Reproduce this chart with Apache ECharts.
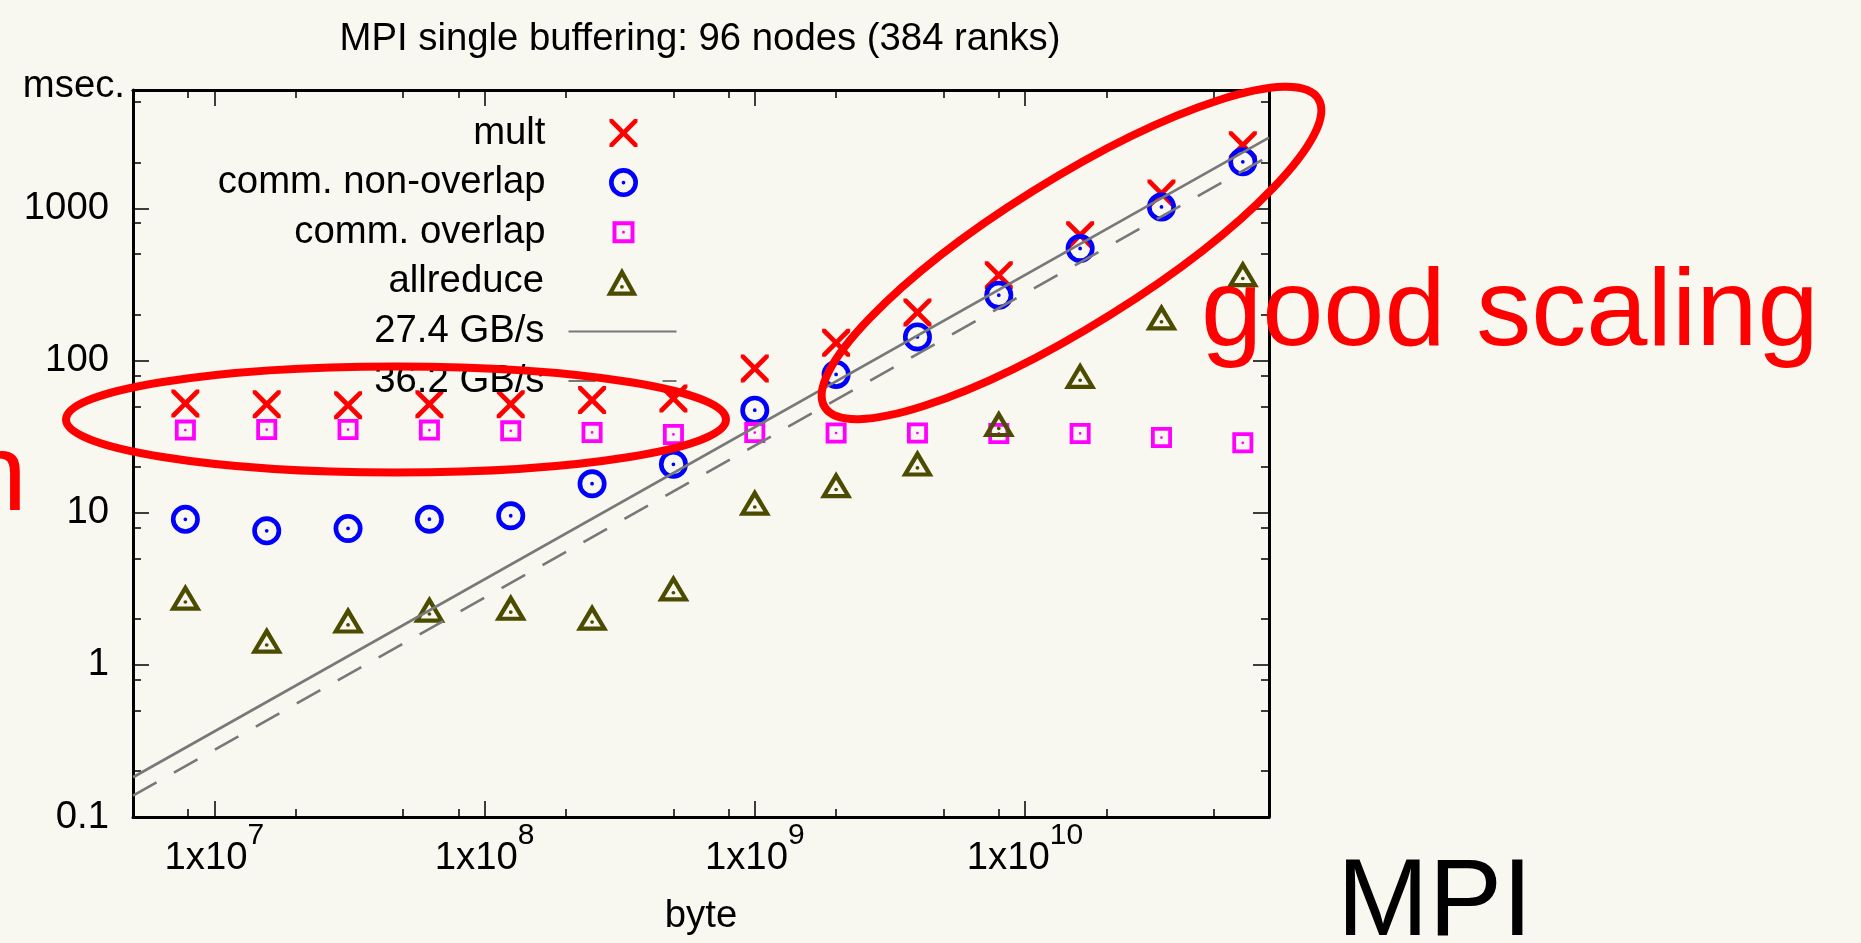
<!DOCTYPE html>
<html>
<head>
<meta charset="utf-8">
<script src="https://cdn.jsdelivr.net/npm/echarts@6/dist/echarts.min.js"></script>
<style>
html,body{margin:0;padding:0;background:#f8f7f0;}
#c{width:1861px;height:943px;}
</style>
</head>
<body>
<div id="c"></div>
<script>
// ---------------- data ----------------
const bytes = [7.8125e6, 1.5625e7, 3.125e7, 6.25e7, 1.25e8, 2.5e8, 5e8, 1e9, 2e9, 4e9, 8e9, 1.6e10, 3.2e10, 6.4e10];
const mult = [52.3, 51.7, 50.9, 51.7, 51.7, 55.0, 56.4, 88.7, 130.7, 207, 364, 667, 1253, 2601];
const commNonOverlap = [9.04, 7.60, 7.88, 9.06, 9.55, 15.5, 20.8, 47.2, 81.1, 143, 269, 545, 1023, 2022];
const commOverlap = [34.9, 35.2, 35.2, 34.9, 34.5, 33.7, 32.7, 33.6, 33.4, 33.4, 33.2, 33.2, 31.2, 28.8];
const allreduce = [2.59, 1.35, 1.83, 2.16, 2.22, 1.91, 2.98, 10.9, 14.2, 19.7, 35.8, 74.3, 179.6, 346];
const bwX = [5e6, 8e10];
const bw274 = [0.1825, 2920];
const bw362 = [0.138, 2210];
const seriesNames = ['mult', 'comm. non-overlap', 'comm. overlap', 'allreduce', '27.4 GB/s', '36.2 GB/s'];
const xMajorTicks = [1e7, 1e8, 1e9, 1e10];
const xMinorTicks = [8e6, 2e7, 5e7, 8e7, 2e8, 5e8, 8e8, 2e9, 5e9, 8e9, 2e10, 5e10];
const yMajorTicks = [0.1, 1, 10, 100, 1000];
const yMinorTicks = [0.2, 0.5, 0.8, 2, 5, 8, 20, 50, 80, 200, 500, 800, 2000, 5000];
const titleText = 'MPI single buffering: 96 nodes (384 ranks)';

// ---------------- styles ----------------
const FONT = '"Liberation Sans", Arial, Helvetica, sans-serif';
const FS = 38.3;
const X_MIN = 5e6, X_MAX = 8e10, Y_MIN = 0.1, Y_MAX = 6000;

const SYM_X = 'path://M0,0 L12,0 L50,38 L88,0 L100,0 L100,12 L62,50 L100,88 L100,100 L88,100 L50,62 L12,100 L0,100 L0,88 L38,50 L0,12 Z';
const SYM_CIRCLE = 'path://M0,50 A50,50 0 1,1 100,50 A50,50 0 1,1 0,50 Z M16,50 A34,34 0 1,0 84,50 A34,34 0 1,0 16,50 Z M43.5,50 A6.5,6.5 0 1,1 56.5,50 A6.5,6.5 0 1,1 43.5,50 Z';
const SYM_SQUARE = 'path://M0,0 L100,0 L100,100 L0,100 Z M18,18 L18,82 L82,82 L82,18 Z M43.5,50 A6.5,6.5 0 1,1 56.5,50 A6.5,6.5 0 1,1 43.5,50 Z';
const SYM_TRI = 'path://M50,0 L100,90 L0,90 Z M50,29 L23.1,76 L76.9,76 Z M44,61 A6,6 0 1,1 56,61 A6,6 0 1,1 44,61 Z';

function mkAxis(kind, position, tickVals, tickLen, withLine) {
  return {
    type: 'log', logBase: 10, position: position,
    min: kind === 'x' ? X_MIN : Y_MIN,
    max: kind === 'x' ? X_MAX : Y_MAX,
    silent: true,
    splitLine: {show: false},
    minorTick: {show: false},
    minorSplitLine: {show: false},
    axisPointer: {show: false},
    axisLine: {show: withLine, onZero: false, lineStyle: {color: '#000', width: 3}},
    axisTick: {show: true, inside: true, length: tickLen, customValues: tickVals,
               lineStyle: {color: '#000', width: 1.5}},
    axisLabel: {show: false}
  };
}

const xMain = mkAxis('x', 'bottom', xMajorTicks, 16, true);
xMain.axisLabel = {
  show: true, margin: 4, customValues: xMajorTicks, color: '#000', fontFamily: FONT, fontSize: FS,
  formatter: function (v) {
    const e = Math.round(Math.log10(v));
    return '{n|1x10}{s|' + e + '}';
  },
  rich: {
    n: {fontSize: FS, lineHeight: 56, verticalAlign: 'bottom', color: '#000', fontFamily: FONT},
    s: {fontSize: 30, lineHeight: 30, verticalAlign: 'top', color: '#000', fontFamily: FONT}
  }
};
xMain.name = 'byte';
xMain.nameLocation = 'middle';
xMain.nameGap = 80;
xMain.nameTextStyle = {fontSize: FS, lineHeight: FS, color: '#000', fontFamily: FONT};

const yMain = mkAxis('y', 'left', yMajorTicks, 16, true);
yMain.axisLabel = {
  show: true, margin: 24, customValues: yMajorTicks, color: '#000', fontFamily: FONT, fontSize: FS,
  formatter: function (v) {
    const e = Math.round(Math.log10(v));
    return e < 0 ? '0.1' : String(Math.pow(10, e));
  }
};
yMain.name = 'msec.';
yMain.nameLocation = 'end';
yMain.nameGap = 4;
yMain.nameTextStyle = {fontSize: FS, color: '#000', fontFamily: FONT, align: 'right',
                       verticalAlign: 'middle', padding: [0, 8, 0, 0]};

function scatter(name, vals, symbol, size, color, offset) {
  return {
    type: 'scatter', name: name, xAxisIndex: 0, yAxisIndex: 0,
    data: bytes.map(function (b, i) { return [b, vals[i]]; }),
    symbol: symbol, symbolSize: size, symbolOffset: offset || [0, 0],
    itemStyle: {color: color, opacity: 1},
    emphasis: {disabled: true}, silent: true, z: 3
  };
}
function bwLine(name, vals, type) {
  return {
    type: 'line', name: name, xAxisIndex: 0, yAxisIndex: 0,
    data: bwX.map(function (x, i) { return [x, vals[i]]; }),
    symbol: 'none', showSymbol: false,
    lineStyle: {color: '#787878', width: 2.6, type: type},
    itemStyle: {color: 'rgba(0,0,0,0)'},
    emphasis: {disabled: true}, silent: true, z: 4
  };
}

// one legend block per row so each key symbol keeps its own size
const KEY_CENTER_X = 623.5, KEY_WIDTH = 108;
const legendIconSizes = [28, 29, 22, 28, 27, 27];
const legends = seriesNames.map(function (name, i) {
  const isLine = i >= 4;
  const rightEdge = isLine ? KEY_CENTER_X + KEY_WIDTH / 2 : KEY_CENTER_X + legendIconSizes[i] / 2;
  return {
    orient: 'vertical', align: 'right', right: 1861 - rightEdge, top: 114 + i * 49.6, padding: 0,
    itemWidth: KEY_WIDTH, itemHeight: legendIconSizes[i], selectedMode: false,
    data: [{name: name, itemStyle: isLine ? {opacity: 0} : undefined}],
    textStyle: {fontSize: FS, lineHeight: 38, color: '#000', fontFamily: FONT, padding: [0, 19, 0, 0]}
  };
});

const chart = echarts.init(document.getElementById('c'), null, {renderer: 'canvas'});
chart.setOption({
  animation: false,
  backgroundColor: '#f8f7f0',
  textStyle: {fontFamily: FONT},
  title: {
    text: titleText, left: 700, top: 20, textAlign: 'center', padding: 0,
    textStyle: {fontSize: FS, lineHeight: FS, fontWeight: 'normal', color: '#000', fontFamily: FONT}
  },
  grid: {left: 133, right: 592, top: 90, bottom: 126, containLabel: false, outerBoundsMode: 'none', show: false},
  xAxis: [
    xMain,
    mkAxis('x', 'top', xMajorTicks, 16, true),
    mkAxis('x', 'bottom', xMinorTicks, 8, false),
    mkAxis('x', 'top', xMinorTicks, 8, false)
  ],
  yAxis: [
    yMain,
    mkAxis('y', 'right', yMajorTicks, 16, true),
    mkAxis('y', 'left', yMinorTicks, 8, false),
    mkAxis('y', 'right', yMinorTicks, 8, false)
  ],
  legend: legends,
  series: [
    scatter(seriesNames[0], mult, SYM_X, 28, '#ff0000'),
    scatter(seriesNames[1], commNonOverlap, SYM_CIRCLE, 29, '#0000ff'),
    scatter(seriesNames[2], commOverlap, SYM_SQUARE, 21, '#ff00ff'),
    scatter(seriesNames[3], allreduce, SYM_TRI, [32, 27], '#4c4c00', [0, -4.8]),
    bwLine(seriesNames[4], bw274, 'solid'),
    bwLine(seriesNames[5], bw362, [27, 20])
  ],
  graphic: [
    {type: 'ellipse', x: 396, y: 419.5, shape: {cx: 0, cy: 0, rx: 330, ry: 53},
     style: {fill: 'transparent', stroke: '#ff0000', lineWidth: 8}, z: 100, silent: true},
    {type: 'ellipse', x: 1071.5, y: 253, rotation: 32 * Math.PI / 180, shape: {cx: 0, cy: 0, rx: 291, ry: 73},
     style: {fill: 'transparent', stroke: '#ff0000', lineWidth: 8}, z: 100, silent: true},
    {type: 'text', x: 1201, y: 315, z: 101, silent: true,
     style: {text: 'good scaling', fontSize: 110, fontFamily: FONT, fill: '#ff0000', align: 'left', verticalAlign: 'middle'}},
    {type: 'text', x: 1337, y: 905, z: 101, silent: true,
     style: {text: 'MPI', fontSize: 110, fontFamily: FONT, fill: '#000000', align: 'left', verticalAlign: 'middle'}},
    {type: 'text', x: 27, y: 480, z: 101, silent: true,
     style: {text: 'n', fontSize: 110, fontFamily: FONT, fill: '#ff0000', align: 'right', verticalAlign: 'middle'}}
  ]
});
</script>
</body>
</html>
